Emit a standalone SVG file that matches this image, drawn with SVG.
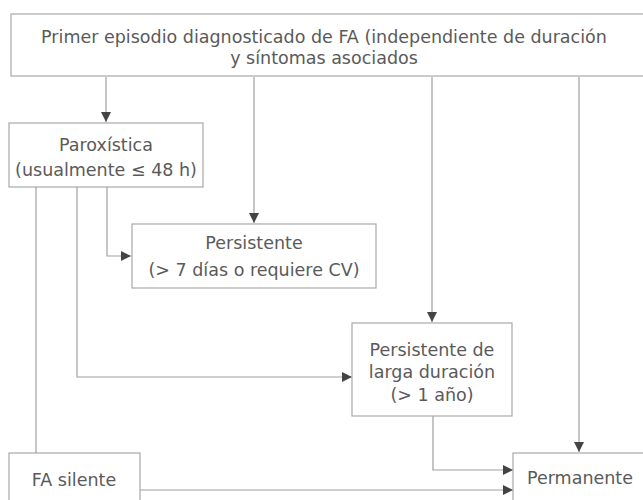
<svg xmlns="http://www.w3.org/2000/svg" width="643" height="500" viewBox="0 0 643 500">
<style>
.box{fill:#fff;stroke:#a8a8a8;stroke-width:1.2}
.t{font-family:"DejaVu Sans","Liberation Sans",Arial,sans-serif;font-size:17.5px;fill:#5a5a5a;text-anchor:middle}
.c{fill:none;stroke:#a0a0a0;stroke-width:1.2}
</style>
<defs>
<marker id="ah" viewBox="0 0 10 10" refX="10" refY="5" markerWidth="10" markerHeight="10" markerUnits="userSpaceOnUse" orient="auto">
<path d="M0,0 L10,5 L0,10 Z" fill="#444"/>
</marker>
</defs>
<rect width="643" height="500" fill="#fff"/>
<g id="connectors">
<path class="c" d="M106,77 V122" marker-end="url(#ah)"/>
<path class="c" d="M254,77 V223" marker-end="url(#ah)"/>
<path class="c" d="M432,77 V322" marker-end="url(#ah)"/>
<path class="c" d="M579,77 V452" marker-end="url(#ah)"/>
<path class="c" d="M107,187 V256 H131" marker-end="url(#ah)"/>
<path class="c" d="M77,187 V377 H352" marker-end="url(#ah)"/>
<path class="c" d="M36,187 V453"/>
<path class="c" d="M433,416 V470 H513" marker-end="url(#ah)"/>
<path class="c" d="M140,490 H513" marker-end="url(#ah)"/>
</g>
<g id="node-primer">
<rect class="box" x="11" y="14" width="640" height="62"/>
<text class="t" x="324" y="43">Primer episodio diagnosticado de FA (independiente de duración</text>
<text class="t" x="324" y="64">y síntomas asociados</text>
</g>
<g id="node-paroxistica">
<rect class="box" x="9" y="123" width="194" height="64"/>
<text class="t" x="106" y="151">Paroxística</text>
<text class="t" x="106" y="176">(usualmente ≤ 48 h)</text>
</g>
<g id="node-persistente">
<rect class="box" x="132" y="224" width="244" height="64"/>
<text class="t" x="254" y="249">Persistente</text>
<text class="t" x="254" y="276">(&gt; 7 días o requiere CV)</text>
</g>
<g id="node-larga">
<rect class="box" x="352" y="323" width="160" height="93"/>
<text class="t" x="432" y="356">Persistente de</text>
<text class="t" x="432" y="378">larga duración</text>
<text class="t" x="432" y="401">(&gt; 1 año)</text>
</g>
<g id="node-silente">
<rect class="box" x="9" y="453" width="131" height="60"/>
<text class="t" x="74" y="486">FA silente</text>
</g>
<g id="node-permanente">
<rect class="box" x="513" y="453" width="140" height="60"/>
<text class="t" x="580" y="484">Permanente</text>
</g>
</svg>
